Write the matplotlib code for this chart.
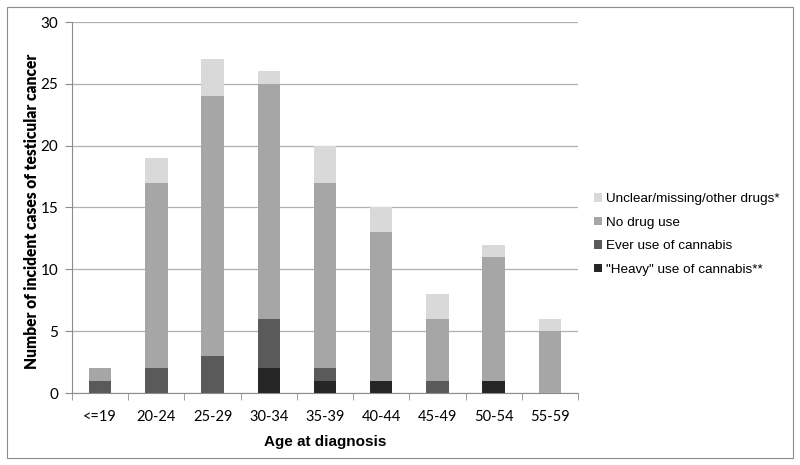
import matplotlib
matplotlib.use("Agg")
import matplotlib.pyplot as plt
import numpy as np
from matplotlib.patches import Rectangle

categories = ["<=19", "20-24", "25-29", "30-34", "35-39", "40-44", "45-49", "50-54", "55-59"]
heavy = [0, 0, 0, 2, 1, 1, 0, 1, 0]
ever = [1, 2, 3, 4, 1, 0, 1, 0, 0]
no_drug = [1, 15, 21, 19, 15, 12, 5, 10, 5]
unclear = [0, 2, 3, 1, 3, 2, 2, 1, 1]

series = [
    ('"Heavy" use of cannabis**', heavy, "#262626"),
    ("Ever use of cannabis", ever, "#5a5a5a"),
    ("No drug use", no_drug, "#a6a6a6"),
    ("Unclear/missing/other drugs*", unclear, "#d9d9d9"),
]

fig = plt.figure(figsize=(8, 4.65), dpi=100)
fig.patches.append(Rectangle((7/800, 1-458/465), 786/800, 451/465, transform=fig.transFigure,
                             fill=False, edgecolor="#8c8c8c", linewidth=0.8))
ax = fig.add_axes([72/800, 1-393/465, 506/800, 371/465])

x = np.arange(len(categories))
bottom = np.zeros(len(categories))
handles = []
for label, vals, color in series:
    b = ax.bar(x, vals, width=0.4, bottom=bottom, color=color, label=label, zorder=3)
    bottom += np.array(vals)
    handles.append(b)

ax.set_xlim(-0.5, len(categories) - 0.5)
ax.set_ylim(0, 30)
ax.set_yticks(range(0, 31, 5))
ax.yaxis.grid(True, color="#b0b0b0", linewidth=0.9, zorder=0)
ax.set_axisbelow(True)
for s in ["top", "right"]:
    ax.spines[s].set_visible(False)
ax.spines["left"].set_color("#8c8c8c")
ax.spines["bottom"].set_color("#8c8c8c")

ax.set_xticks(x)
ax.set_xticklabels(categories, fontfamily="Lato", fontsize=10.5)
ax.tick_params(axis="x", length=0, pad=12)
ax.set_xticks(np.arange(-0.5, len(categories), 1), minor=True)
ax.tick_params(axis="x", which="minor", length=5, color="#8c8c8c", direction="out")
ax.tick_params(axis="y", length=5, color="#8c8c8c", direction="out", pad=5)
for t in ax.get_yticklabels():
    t.set_fontfamily("Lato")
    t.set_fontsize(11)

ax.set_xlabel("Age at diagnosis", fontfamily="Liberation Sans", fontweight="bold", fontsize=11, labelpad=8)
ax.set_ylabel("Number of incident cases of testicular cancer", fontfamily="Lato",
              fontweight="heavy", fontsize=11.2)
ax.yaxis.set_label_coords((40 - 72) / 506, 0.49)

leg = fig.legend(handles=handles[::-1], labels=[s[0] for s in series][::-1],
                 loc="upper left", bbox_to_anchor=(582/800, 1-181/465), frameon=False,
                 prop={"family": "Liberation Sans", "size": 9.7},
                 handlelength=0.6, handleheight=0.6, handletextpad=0.3, labelspacing=0.85)

fig.savefig("out.png", dpi=100)
